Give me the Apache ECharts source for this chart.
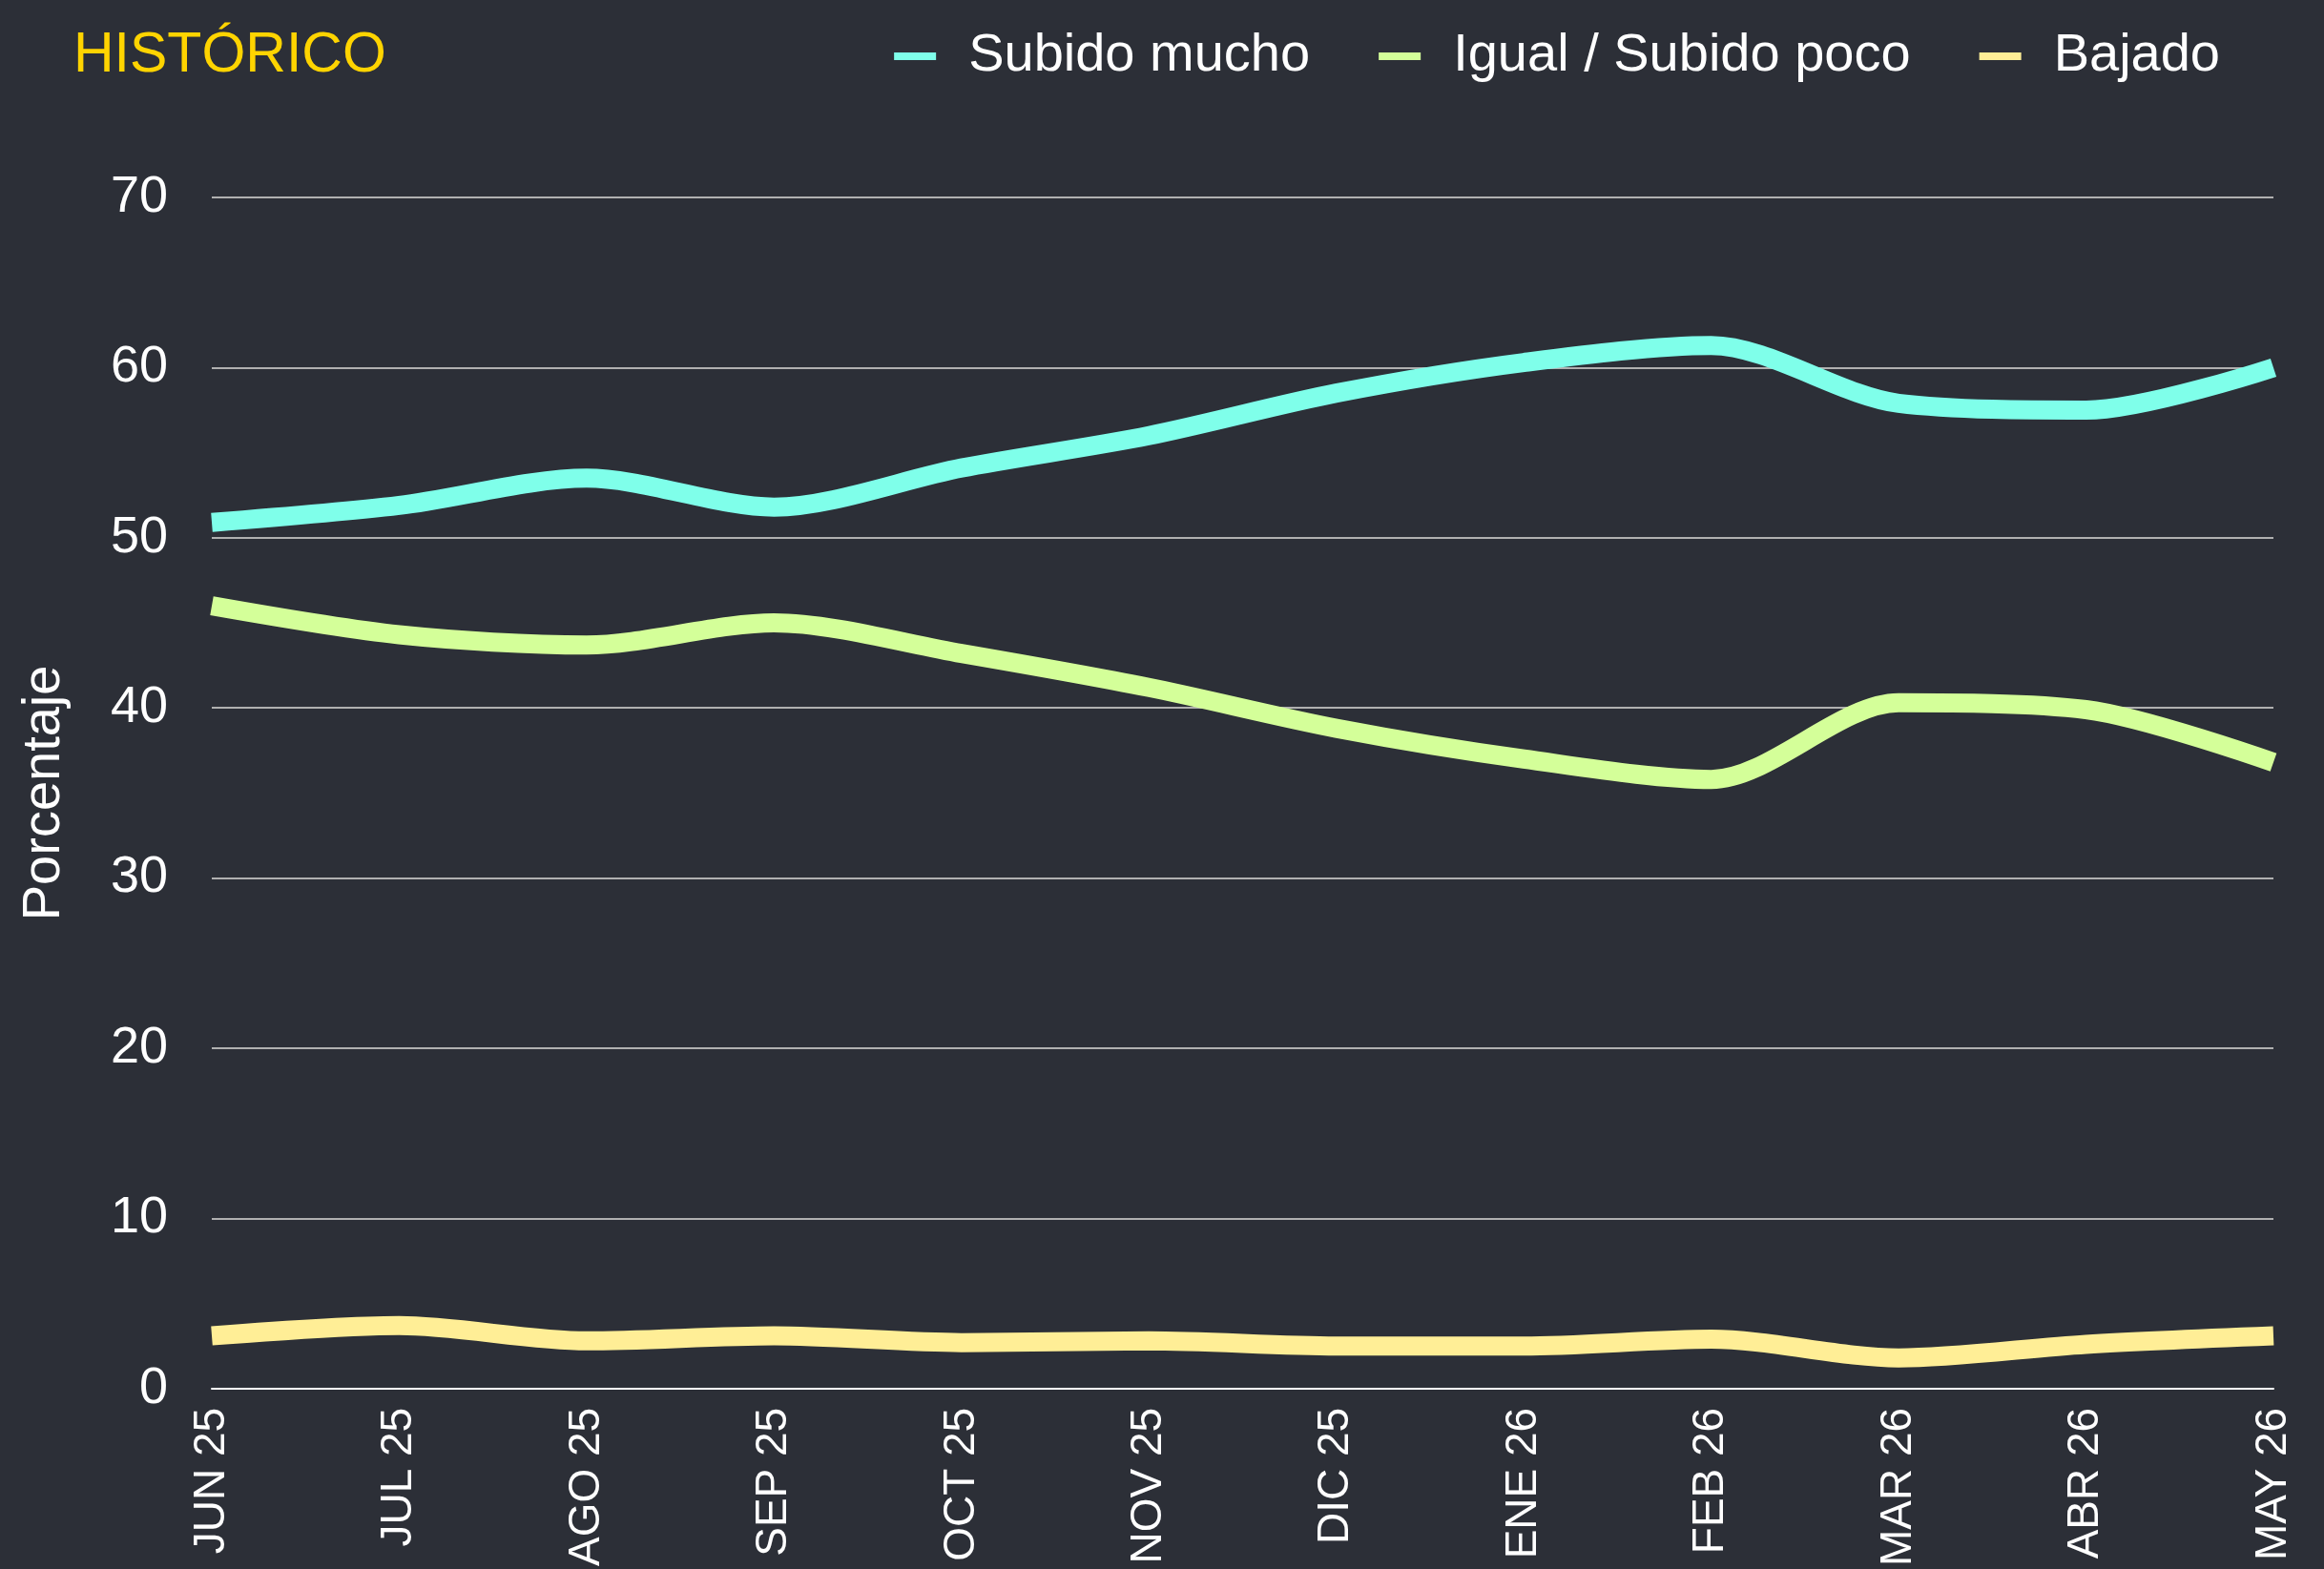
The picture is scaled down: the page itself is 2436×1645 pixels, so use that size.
<!DOCTYPE html>
<html>
<head>
<meta charset="utf-8">
<script src="https://cdn.jsdelivr.net/npm/echarts@6/dist/echarts.min.js"></script>
<style>
html,body{margin:0;padding:0;background:#2c2f37;}
#chart{width:2436px;height:1645px;}
</style>
</head>
<body>
<div id="chart"></div>
<script>
const categories = ['JUN 25','JUL 25','AGO 25','SEP 25','OCT 25','NOV 25','DIC 25','ENE 26','FEB 26','MAR 26','ABR 26','MAY 26'];
const subidoMucho = [50.9, 51.9, 53.5, 51.8, 54.1, 56.0, 58.5, 60.3, 61.3, 57.9, 57.5, 60.0];
const igualSubidoPoco = [46.0, 44.3, 43.7, 45.0, 43.2, 41.2, 38.8, 37.0, 35.8, 40.3, 39.9, 36.8];
const bajado = [3.1, 3.7, 2.8, 3.1, 2.7, 2.8, 2.5, 2.5, 2.9, 1.8, 2.6, 3.1];
const seriesNames = ['Subido mucho', 'Igual / Subido poco', 'Bajado'];
const yTicks = [0, 10, 20, 30, 40, 50, 60, 70];

const FONT = "'Liberation Sans', Arial, Helvetica, sans-serif";
const colors = ['#7fffea', '#d4ff99', '#ffee96'];

const chart = echarts.init(document.getElementById('chart'), null, {renderer: 'canvas'});
chart.setOption({
  backgroundColor: '#2c2f37',
  animation: false,
  title: {
    text: 'HISTÓRICO',
    left: 72,
    top: 24,
    textStyle: {color: '#ffd400', fontSize: 59, fontWeight: 'normal', fontFamily: FONT}
  },
  legend: {
    data: seriesNames,
    right: 104,
    top: 26,
    icon: 'rect',
    itemWidth: 44,
    itemHeight: 8,
    itemGap: 72,
    textStyle: {color: '#ffffff', fontSize: 56, fontFamily: FONT, padding: [0, 0, 0, 29]}
  },
  grid: {left: 222, right: 53, top: 207, bottom: 1645 - 1457, containLabel: false},
  xAxis: {
    type: 'category',
    data: categories,
    boundaryGap: false,
    axisLine: {show: true, lineStyle: {color: '#ffffff', width: 2}},
    axisTick: {show: false},
    axisLabel: {color: '#ffffff', fontSize: 46, fontFamily: FONT, rotate: 90, margin: 20, interval: 0}
  },
  yAxis: {
    type: 'value',
    min: yTicks[0],
    max: yTicks[yTicks.length - 1],
    interval: 10,
    name: 'Porcentaje',
    nameLocation: 'middle',
    nameGap: 147,
    nameTextStyle: {color: '#ffffff', fontSize: 56, fontFamily: FONT},
    axisLine: {show: false},
    axisTick: {show: false},
    axisLabel: {color: '#ffffff', fontSize: 54, fontFamily: FONT, margin: 46},
    splitLine: {show: true, lineStyle: {color: '#b0b0b0', width: 2}}
  },
  series: [
    {name: seriesNames[0], type: 'line', data: subidoMucho, smooth: 0.3, showSymbol: false, color: colors[0], lineStyle: {width: 20, color: colors[0]}},
    {name: seriesNames[1], type: 'line', data: igualSubidoPoco, smooth: 0.3, showSymbol: false, color: colors[1], lineStyle: {width: 20, color: colors[1]}},
    {name: seriesNames[2], type: 'line', data: bajado, smooth: 0.3, showSymbol: false, color: colors[2], lineStyle: {width: 20, color: colors[2]}}
  ]
});
</script>
</body>
</html>
